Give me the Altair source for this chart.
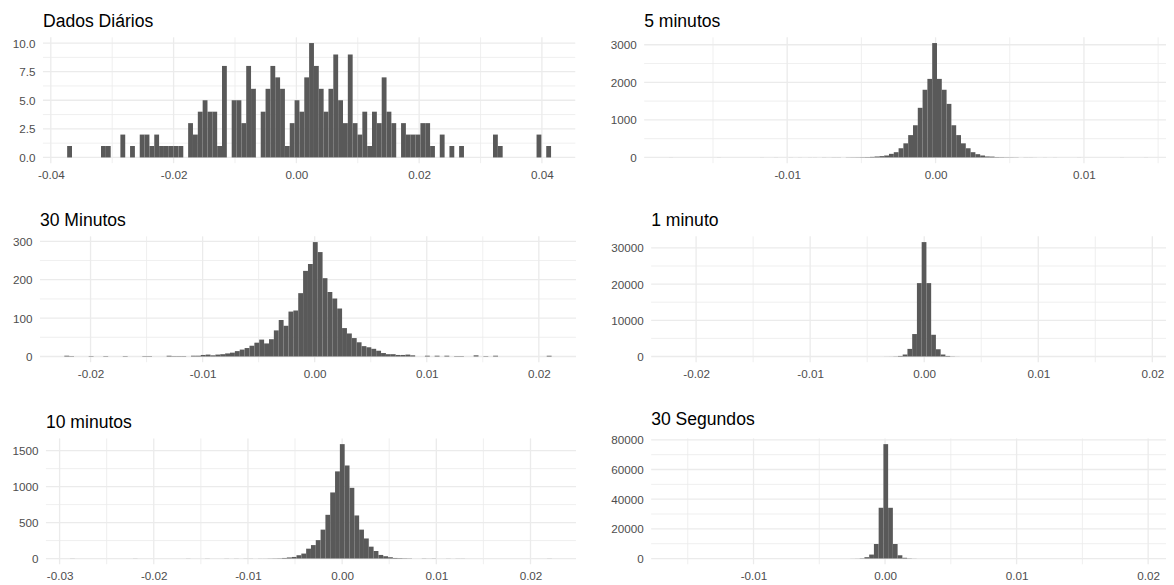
import altair as alt
import pandas as pd

# ---------------- data ----------------
TITLES = ["Dados Diários", "5 minutos", "30 Minutos", "1 minuto", "10 minutos", "30 Segundos"]

# histogram bins: left edge of the first bin and bin width (return units)
BIN_START = [-0.03734, -0.01802, -0.02234, -0.02186, -0.02889, -0.01598]
BIN_WIDTH = [0.0007883, 0.0003235, 0.0004348, 0.0004161, 0.0005116, 0.0003603]

COUNTS_DIARIO = [1, 0, 0, 0, 0, 0, 0, 1, 1, 0,
                 0, 2, 0, 1, 0, 2, 2, 1, 2, 1,
                 1, 1, 1, 1, 0, 3, 2, 4, 5, 4,
                 4, 1, 8, 0, 5, 5, 3, 8, 6, 0,
                 4, 6, 8, 7, 6, 1, 3, 5, 4, 7,
                 10, 8, 6, 4, 6, 9, 5, 3, 9, 3,
                 2, 4, 1, 4, 3, 7, 4, 3, 0, 3,
                 2, 2, 2, 3, 3, 1, 0, 2, 0, 1,
                 0, 1, 0, 0, 0, 0, 0, 0, 2, 1,
                 0, 0, 0, 0, 0, 0, 0, 2, 0, 1]

COUNTS_5MIN = [1, 0, 0, 0, 0, 0, 0, 0, 0, 0,
               1, 0, 0, 0, 0, 0, 0, 0, 0, 1,
               0, 0, 1, 0, 0, 1, 0, 1, 0, 1,
               1, 0, 2, 1, 3, 3, 0, 4, 5, 6,
               8, 10, 15, 25, 35, 52, 96, 140, 245, 376,
               595, 857, 1321, 1802, 2091, 3045, 2091, 1802, 1426, 857,
               595, 376, 245, 140, 87, 52, 26, 22, 10, 8,
               6, 5, 4, 0, 2, 2, 1, 0, 1, 0,
               1, 0, 0, 0, 0, 1, 0, 0, 0, 0,
               0, 0, 0, 0, 1, 0, 0, 0, 0, 1]

COUNTS_30MIN = [2, 1, 0, 0, 0, 1, 0, 0, 1, 0,
                0, 0, 1, 0, 0, 0, 1, 1, 0, 0,
                0, 2, 1, 1, 1, 0, 2, 2, 4, 5,
                3, 5, 6, 8, 10, 14, 18, 22, 28, 36,
                44, 34, 45, 68, 95, 80, 117, 120, 165, 223,
                241, 298, 272, 204, 168, 151, 125, 74, 60, 48,
                37, 27, 24, 20, 15, 9, 6, 6, 4, 4,
                5, 3, 0, 0, 2, 0, 2, 0, 2, 0,
                1, 1, 0, 0, 3, 0, 1, 0, 2, 0,
                0, 0, 0, 0, 0, 0, 0, 0, 0, 2]

COUNTS_1MIN = [1, 0, 0, 0, 0, 0, 0, 0, 0, 0,
               0, 0, 0, 0, 1, 0, 0, 0, 0, 0,
               0, 1, 0, 0, 0, 0, 1, 0, 0, 1,
               0, 1, 0, 1, 1, 0, 2, 1, 2, 3,
               3, 4, 6, 8, 12, 20, 50, 150, 545, 2100,
               6200, 20270, 31600, 20270, 6000, 2000, 545, 150, 50, 15,
               8, 5, 4, 3, 2, 2, 1, 1, 1, 0,
               1, 0, 0, 1, 0, 0, 0, 1, 0, 0,
               0, 0, 1, 0, 0, 0, 0, 0, 0, 0,
               0, 0, 0, 0, 0, 0, 0, 0, 0, 1]

COUNTS_10MIN = [1, 0, 0, 0, 0, 0, 0, 0, 0, 0,
                0, 0, 0, 1, 0, 0, 0, 0, 0, 0,
                0, 0, 0, 0, 1, 0, 0, 0, 1, 0,
                0, 0, 1, 0, 1, 0, 1, 1, 0, 1,
                1, 2, 3, 4, 8, 15, 22, 46, 69, 137,
                187, 256, 402, 608, 919, 1212, 1591, 1294, 983, 599,
                402, 279, 165, 105, 50, 32, 18, 8, 6, 4,
                3, 0, 0, 2, 1, 2, 0, 0, 1, 0,
                1, 1, 0, 0, 0, 0, 0, 0, 0, 0,
                0, 0, 0, 0, 0, 0, 0, 0, 0, 1]

COUNTS_30SEG = [1, 0, 0, 0, 0, 0, 0, 0, 0, 0,
                0, 0, 0, 0, 0, 1, 0, 0, 0, 0,
                0, 0, 1, 0, 0, 0, 1, 0, 1, 0,
                1, 1, 2, 3, 5, 8, 15, 30, 60, 200,
                900, 2670, 9780, 34220, 77110, 34200, 9780, 2200, 500, 150,
                50, 20, 10, 5, 3, 2, 1, 1, 0, 1,
                0, 0, 1, 0, 0, 0, 0, 0, 0, 0,
                0, 0, 0, 0, 0, 0, 1, 0, 0, 0,
                0, 0, 0, 0, 0, 0, 0, 0, 0, 0,
                0, 0, 0, 0, 0, 0, 0, 0, 0, 1]

COUNTS = [COUNTS_DIARIO, COUNTS_5MIN, COUNTS_30MIN, COUNTS_1MIN, COUNTS_10MIN, COUNTS_30SEG]

X_MAJOR = [[-0.04, -0.02, 0.0, 0.02, 0.04],
           [-0.01, 0.0, 0.01],
           [-0.02, -0.01, 0.0, 0.01, 0.02],
           [-0.02, -0.01, 0.0, 0.01, 0.02],
           [-0.03, -0.02, -0.01, 0.0, 0.01, 0.02],
           [-0.01, 0.0, 0.01, 0.02]]
X_MINOR = [[-0.03, -0.01, 0.01, 0.03],
           [-0.015, -0.005, 0.005, 0.015],
           [-0.015, -0.005, 0.005, 0.015],
           [-0.015, -0.005, 0.005, 0.015],
           [-0.025, -0.015, -0.005, 0.005, 0.015],
           [-0.015, -0.005, 0.005, 0.015]]
Y_MAJOR = [[0, 2.5, 5, 7.5, 10],
           [0, 1000, 2000, 3000],
           [0, 100, 200, 300],
           [0, 10000, 20000, 30000],
           [0, 500, 1000, 1500],
           [0, 20000, 40000, 60000, 80000]]
Y_MINOR = [[1.25, 3.75, 6.25, 8.75],
           [500, 1500, 2500],
           [50, 150, 250],
           [5000, 15000, 25000],
           [250, 750, 1250],
           [10000, 30000, 50000, 70000]]
Y_FORMAT = [".1f", "d", "d", "d", "d", "d"]

# ---------------- layout / style ----------------
PANEL_W = [533, 528.7, 536.7, 522.7, 530.7, 522]
LEAD = [34, 30.3, 36.3]         # space before left panel in each row
GAP = [68.3, 74.3, 75]          # space between left panel and right panel
PANEL_H = 126
ROW_SPACING = 29.3
FONT = "Liberation Sans"
GRID = "#EBEBEB"
BAR = "#595959"
LABEL = "#4D4D4D"
TITLE_SIZE = 17.6
LABEL_SIZE = 11.7


def panel(i):
    counts = COUNTS[i]
    start, w = BIN_START[i], BIN_WIDTH[i]
    n = len(counts)
    df = pd.DataFrame({
        "x0": [start + k * w for k in range(n)],
        "x1": [start + (k + 1) * w for k in range(n)],
        "n": counts,
    })
    df = df[df["n"] > 0]
    lo, hi = start, start + n * w
    pad = 0.05 * (hi - lo)
    m = max(counts)
    xs = alt.Scale(domain=[lo - pad, hi + pad], nice=False, zero=False)
    ys = alt.Scale(domain=[-0.05 * m, 1.05 * m], nice=False, zero=False)
    xaxis = alt.Axis(values=X_MAJOR[i], title=None, grid=False, ticks=False, tickSize=0,
                     domain=False,
                     labelExpr="replace(format(datum.value, '.2f'), '\u2212', '-')",
                     labelFont=FONT, labelFontSize=LABEL_SIZE, labelColor=LABEL,
                     labelPadding=6, labelFlush=False, labelOverlap=False)
    yaxis = alt.Axis(values=Y_MAJOR[i], title=None, grid=False, ticks=False, tickSize=0,
                     domain=False, format=Y_FORMAT[i], labelFont=FONT,
                     labelFontSize=LABEL_SIZE, labelColor=LABEL, labelPadding=8,
                     labelOverlap=False)

    def xrule(vals, sw):
        return alt.Chart(pd.DataFrame({"v": vals})).mark_rule(color=GRID, strokeWidth=sw).encode(
            x=alt.X("v:Q", scale=xs, axis=xaxis))

    def yrule(vals, sw):
        return alt.Chart(pd.DataFrame({"v": vals})).mark_rule(color=GRID, strokeWidth=sw).encode(
            y=alt.Y("v:Q", scale=ys, axis=yaxis))

    bars = alt.Chart(df).mark_rect(color=BAR).encode(
        x=alt.X("x0:Q", scale=xs, axis=xaxis),
        x2="x1:Q",
        y=alt.Y("n:Q", scale=ys, axis=yaxis),
        y2=alt.datum(0),
    )
    return alt.layer(
        xrule(X_MINOR[i], 0.8), yrule(Y_MINOR[i], 0.8),
        xrule(X_MAJOR[i], 1.3), yrule(Y_MAJOR[i], 1.3),
        bars,
    ).properties(
        width=PANEL_W[i], height=PANEL_H,
        title=alt.TitleParams(TITLES[i], anchor="start", frame="group", font=FONT,
                              fontSize=TITLE_SIZE, fontWeight="normal", color="black",
                              baseline="alphabetic", offset=-7.8),
    )


def spacer(w):
    return alt.Chart(pd.DataFrame({"v": [0]})).mark_point(opacity=0).encode(
        x=alt.X("v:Q", axis=None), y=alt.Y("v:Q", axis=None)
    ).properties(width=w, height=PANEL_H)


rows = [
    alt.hconcat(spacer(LEAD[r]), panel(2 * r), spacer(GAP[r]), panel(2 * r + 1),
                spacing=0, bounds="flush")
    for r in range(3)
]

chart = alt.vconcat(*rows, spacing=ROW_SPACING, bounds="full").properties(
    padding={"left": 0, "top": 4, "right": -8.5, "bottom": -1.7},
    background="white",
).configure_view(stroke="transparent")

chart.save("out.html", embed_options={"renderer": "svg", "actions": False})
